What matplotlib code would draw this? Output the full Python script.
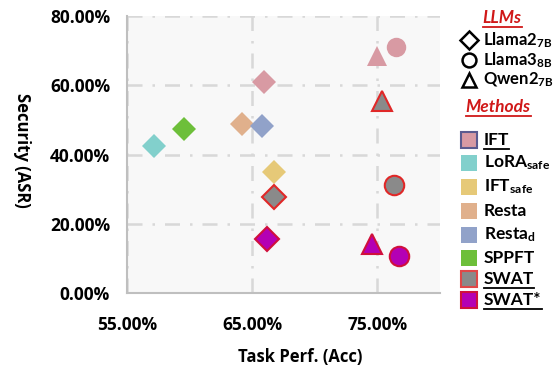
import matplotlib
matplotlib.use("Agg")
import matplotlib.pyplot as plt
from matplotlib.ticker import PercentFormatter

plt.rcParams['mathtext.fontset'] = 'custom'
plt.rcParams['mathtext.rm'] = 'Lato:bold'
plt.rcParams['mathtext.it'] = 'Lato:bold'
plt.rcParams['mathtext.bf'] = 'Lato:bold'

# methods and colours
methods = ['IFT', 'LoRA$_{safe}$', 'IFT$_{safe}$', 'Resta', 'Resta$_{d}$', 'SPPFT', 'SWAT', 'SWAT*']
face = ['#d89aa3', '#82d0cc', '#e6c978', '#e0b08c', '#91a2c9', '#6dbf3a', '#8a8a8a', '#b400b4']
edge = ['none', 'none', 'none', 'none', 'none', 'none', '#e02828', '#d0103c']
leg_edge = ['#5b5b8f', 'none', 'none', 'none', 'none', 'none', '#e04848', '#d0103c']
underlined = [True, False, False, False, False, False, True, True]

# Llama2-7B (all methods)
llama2_acc = [65.99, 57.16, 66.79, 64.17, 65.77, 59.59, 66.79, 66.20]
llama2_asr = [61.0, 42.5, 35.0, 48.7, 48.2, 47.3, 27.6, 15.7]
# Llama3-8B (IFT, SWAT, SWAT*)
llama3_idx = [0, 6, 7]
llama3_acc = [76.52, 76.33, 76.76]
llama3_asr = [71.0, 31.1, 10.8]
# Qwen2-7B (IFT, SWAT, SWAT*)
qwen2_idx = [0, 6, 7]
qwen2_acc = [74.97, 75.35, 74.57]
qwen2_asr = [68.6, 55.6, 14.0]

xticks = [55, 65, 75]
yticks = [0, 20, 40, 60, 80]

fig = plt.figure(figsize=(5.56, 3.67), dpi=100)
ax = fig.add_axes([0.228, 0.202, 0.563, 0.754])
ax.set_facecolor('#f8f8f8')

for i in range(len(llama2_acc)):
    ax.plot(llama2_acc[i], llama2_asr[i], marker='D', ms=12, mfc=face[i],
            mec=edge[i], mew=1.5, ls='none', zorder=3)
for j, i in enumerate(llama3_idx):
    ax.plot(llama3_acc[j], llama3_asr[j], marker='o', ms=14, mfc=face[i],
            mec=edge[i], mew=1.5, ls='none', zorder=3)
for j, i in enumerate(qwen2_idx):
    ax.plot(qwen2_acc[j], qwen2_asr[j], marker='^', ms=14, mfc=face[i],
            mec=edge[i], mew=1.5, ls='none', zorder=3)

ax.set_xlim(55, 80)
ax.set_ylim(0, 80)
ax.set_xticks(xticks)
ax.set_yticks(yticks)
ax.xaxis.set_major_formatter(PercentFormatter(decimals=2))
ax.yaxis.set_major_formatter(PercentFormatter(decimals=2))
for lab in ax.get_xticklabels() + ax.get_yticklabels():
    lab.set_fontweight('bold')
    lab.set_fontsize(12.5)
    lab.set_fontfamily('Open Sans')
ax.tick_params(axis='x', length=0, pad=17)
ax.tick_params(axis='y', length=0, pad=12)
ax.grid(True, ls=(0, (6, 4, 1, 4)), color='#d8d8d8', lw=1.8)
for s in ['top', 'right']:
    ax.spines[s].set_visible(False)
for s in ['left', 'bottom']:
    ax.spines[s].set_color('#bfbfbf')
    ax.spines[s].set_linewidth(1.5)

ax.set_xlabel('Task Perf. (Acc)', fontsize=12, fontweight='bold', fontfamily='Open Sans')
ax.set_ylabel('Security (ASR)', fontsize=12, fontweight='bold', fontfamily='Open Sans',
              rotation=270, va='center', ha='center')
ax.xaxis.set_label_coords(0.553, -0.2)
ax.yaxis.set_label_coords(-0.335, 0.516)

# custom legend in pixel coordinates
lax = fig.add_axes([0, 0, 1, 1])
lax.set_xlim(0, 556)
lax.set_ylim(367, 0)
lax.axis('off')

underlines = []
t = lax.text(502, 18, 'LLMs', color='#d01818', fontsize=12.5, fontweight='bold',
             style='italic', fontfamily='Lato', ha='center', va='center')
underlines.append((t, '#d01818'))
llm_labels = [r'Llama2$_{7B}$', r'Llama3$_{8B}$', r'Qwen2$_{7B}$']
llm_markers = ['D', 'o', '^']
for k in range(3):
    y = 40 + k * 20
    lax.plot(469, y, marker=llm_markers[k], ms=9 if k == 0 else 10, mfc='white', mec='black', mew=1.8)
    lax.text(483, y, llm_labels[k], fontsize=12, fontweight='bold', fontfamily='Lato',
             va='center', ha='left')

t = lax.text(498, 107, 'Methods', color='#d01818', fontsize=12.5, fontweight='bold',
             style='italic', fontfamily='Lato', ha='center', va='center')
underlines.append((t, '#d01818'))
ys = [140, 163, 187, 211, 235, 258, 279, 300]
for i in range(len(methods)):
    lax.plot(469, ys[i], marker='s', ms=11, mfc=face[i],
             mec=leg_edge[i], mew=1.5 if leg_edge[i] != 'none' else 0)
    t = lax.text(484, ys[i], methods[i], fontsize=12.5, fontweight='bold', fontfamily='Lato',
                 va='center', ha='left')
    if underlined[i]:
        underlines.append((t, 'black'))

fig.canvas.draw()
r = fig.canvas.get_renderer()
for t, c in underlines:
    bb = t.get_window_extent(r).transformed(lax.transData.inverted())
    ybot = max(bb.y0, bb.y1)
    lax.plot([bb.x0, bb.x1], [ybot + 1, ybot + 1], color=c, lw=1.3)

fig.savefig('out.png', dpi=100)
